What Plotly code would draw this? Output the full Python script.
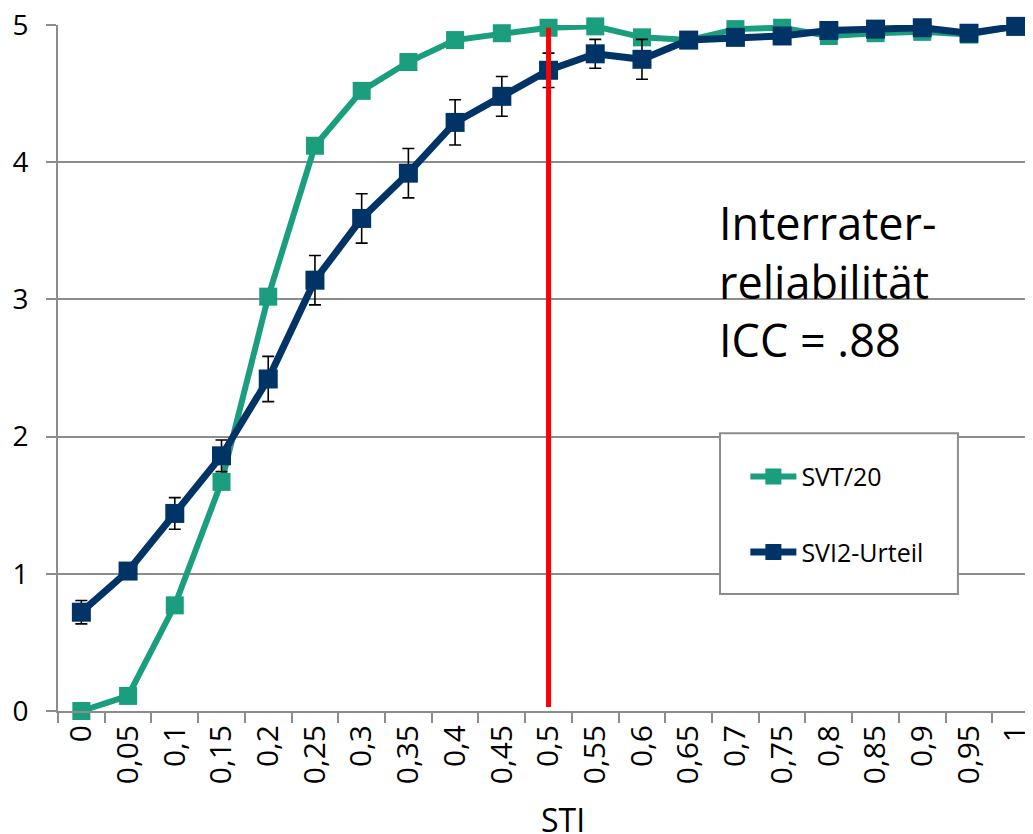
import plotly.graph_objects as go

categories = ["0", "0,05", "0,1", "0,15", "0,2", "0,25", "0,3", "0,35", "0,4", "0,45", "0,5",
              "0,55", "0,6", "0,65", "0,7", "0,75", "0,8", "0,85", "0,9", "0,95", "1"]
svt20 = [0.00, 0.11, 0.77, 1.67, 3.02, 4.12, 4.52, 4.73, 4.89, 4.94, 4.98,
         4.99, 4.91, 4.89, 4.97, 4.98, 4.92, 4.94, 4.95, 4.93, 4.99]
svi2 = [0.72, 1.02, 1.44, 1.86, 2.42, 3.14, 3.59, 3.92, 4.29, 4.48, 4.67,
        4.79, 4.75, 4.89, 4.91, 4.92, 4.96, 4.97, 4.98, 4.94, 4.99]
svi2_err = [0.085, 0.03, 0.115, 0.115, 0.165, 0.18, 0.18, 0.18, 0.165, 0.145, 0.125,
            0.105, 0.145, 0.03, 0.03, 0.03, 0.02, 0.02, 0.02, 0.02, 0.02]
threshold = "0,5"
yticks = [0, 1, 2, 3, 4, 5]

TEAL = "#1A9E7D"
NAVY = "#003466"
GRID = "#8c8c8c"
FONT = "Open Sans"

fig = go.Figure()
fig.add_trace(go.Scatter(
    x=categories, y=svt20, name="SVT/20", mode="lines+markers",
    line=dict(color=TEAL, width=6), marker=dict(symbol="square", size=18, color=TEAL),
    legendgroup="a", cliponaxis=False,
))
fig.add_trace(go.Scatter(
    x=categories, y=svi2, name="SVI2-Urteil", mode="lines+markers",
    line=dict(color=NAVY, width=7), marker=dict(symbol="square", size=19, color=NAVY),
    error_y=dict(type="data", array=svi2_err, visible=True, color="black", thickness=1.6, width=6),
    legendgroup="b", cliponaxis=False,
))

fig.add_shape(type="line", xref="x", yref="y", x0=threshold, x1=threshold, y0=0.03, y1=4.98,
              line=dict(color="#FF0000", width=5), layer="above")
# legend frame
fig.add_shape(type="rect", xref="paper", yref="paper", x0=0.679, x1=0.923, y0=0.1706, y1=0.405,
              line=dict(color=GRID, width=2), fillcolor="white", layer="above")

fig.add_annotation(text="Interrater-<br>reliabilität<br>ICC = .88", xref="paper", yref="paper",
                   x=0.676, y=0.760, xanchor="left", yanchor="top", align="left", showarrow=False,
                   font=dict(family=FONT, size=45, color="black"))
fig.add_annotation(text="STI", xref="paper", yref="paper", x=0.518, y=-0.124,
                   xanchor="center", yanchor="top", showarrow=False,
                   font=dict(family=FONT, size=32, color="black"))

fig.update_layout(
    width=1025, height=826,
    margin=dict(l=50, r=0, t=17, b=123, autoexpand=False),
    paper_bgcolor="white", plot_bgcolor="white",
    font=dict(family=FONT, color="black"),
    showlegend=True,
    legend=dict(x=0.705, y=0.375, xanchor="left", yanchor="top",
                borderwidth=0, bgcolor="rgba(0,0,0,0)", itemwidth=46,
                font=dict(family=FONT, size=25, color="black"),
                tracegroupgap=40, traceorder="grouped"),
)
fig.update_xaxes(type="category", categoryorder="array", categoryarray=categories,
                 range=[-0.5, 20.37], showgrid=False, showline=True, linecolor=GRID, linewidth=2,
                 ticks="outside", tickson="boundaries", ticklen=10, tickcolor=GRID, tickwidth=2,
                 tickangle=-90, tickfont=dict(family=FONT, size=30, color="black"), automargin=False,
                 ticklabeloverflow="allow")
fig.update_yaxes(range=[0, 5], tickvals=yticks, showgrid=True, gridcolor=GRID, gridwidth=2,
                 showline=True, linecolor=GRID, linewidth=2, zeroline=False,
                 ticks="outside", ticklen=10, tickcolor=GRID, tickwidth=2, ticklabelstandoff=12,
                 tickfont=dict(family=FONT, size=28, color="black"), automargin=False,
                 ticklabeloverflow="allow")

fig.write_html("out.html")
